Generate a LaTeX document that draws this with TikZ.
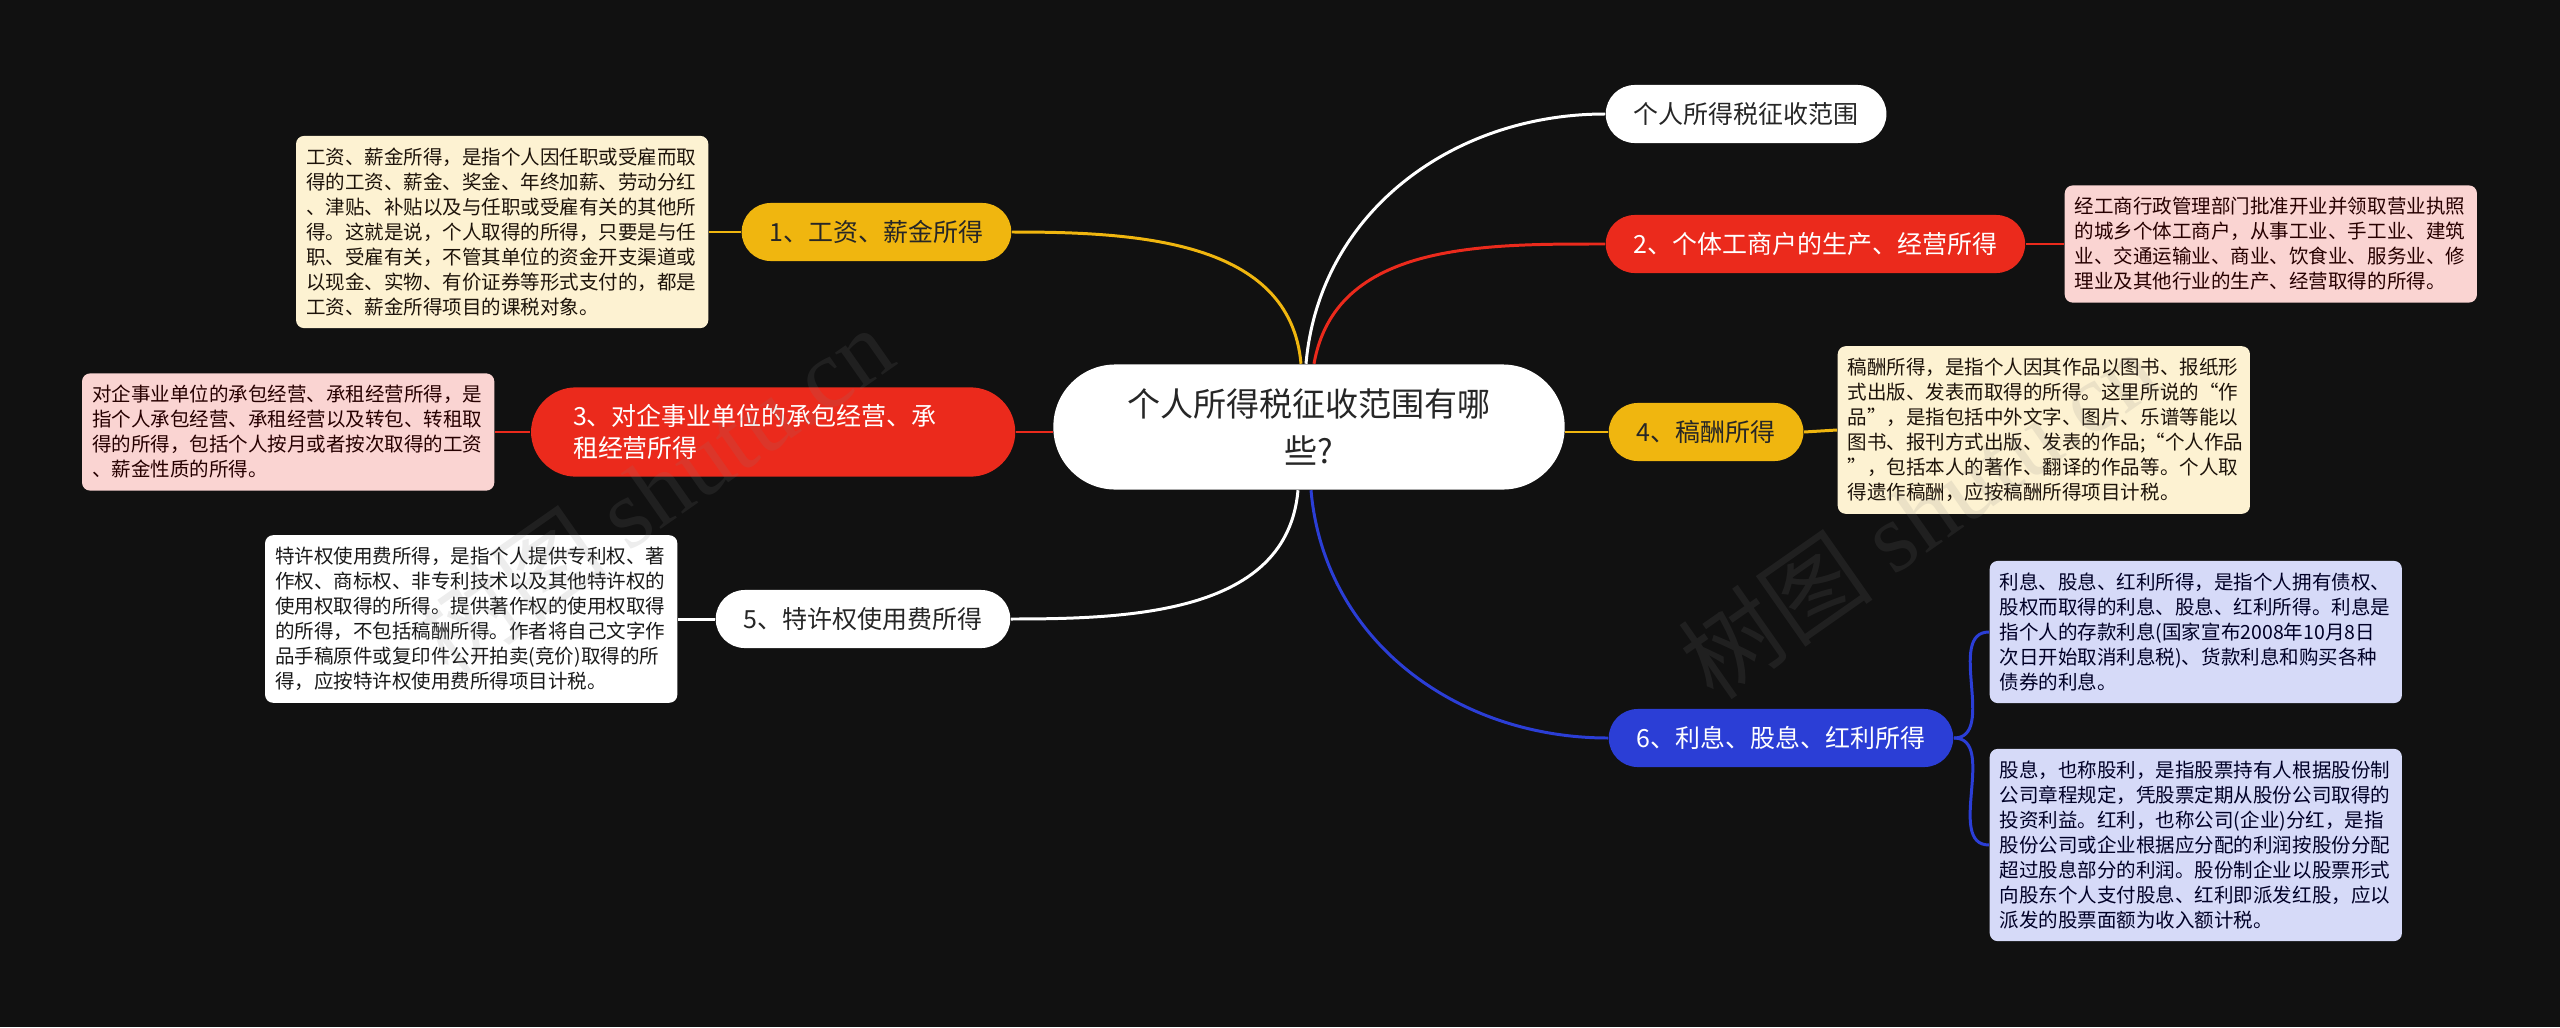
\documentclass[tikz,border=0pt]{standalone}
\usepackage{fontspec}
\setmainfont{Noto Sans CJK SC}
\newfontfamily\wmserif{Liberation Serif}

\definecolor{bgdark}{HTML}{111111}
\definecolor{ylw}{HTML}{F0B60F}
\definecolor{rd}{HTML}{EB2A1C}
\definecolor{blu}{HTML}{2B3ED6}
\definecolor{creamy}{HTML}{FDF2D2}
\definecolor{pinky}{HTML}{FAD4D2}
\definecolor{lav}{HTML}{D6DAF8}

\tikzset{
  rootbox/.style={fill=white, text=black!85, align=center, minimum width=5.11cm,
    minimum height=1.25cm, rounded corners=0.62cm,
    font=\fontsize{9.4pt}{13.6pt}\selectfont},
  branchbox/.style={inner xsep=0.28cm, inner ysep=0pt, minimum height=0.58cm,
    rounded corners=0.29cm, font=\fontsize{7.1pt}{9.1pt}\selectfont},
  leafbox/.style={text width=3.92cm, align=left, inner xsep=0.1cm, inner ysep=0.12cm,
    rounded corners=0.08cm, font=\fontsize{5.55pt}{7.11pt}\selectfont},
  ylwline/.style={draw=ylw, line width=0.85pt},
  rdline/.style={draw=rd, line width=0.85pt},
  whline/.style={draw=white, line width=0.85pt},
  bluline/.style={draw=blu, line width=0.85pt},
  watermark/.style={text=gray, opacity=0.14, rotate=35,
    font=\fontsize{28pt}{28pt}\selectfont}
}

\begin{document}
\begin{tikzpicture}[x=0.01cm, y=-0.01cm]
\fill[bgdark] (0,0) rectangle (2560,1027);

% root
\node[rootbox] (ctr) at (1309,427) {个人所得税征收范围有哪\\些?};

% left branches
\node[branchbox, fill=ylw, text=black!85, anchor=east] (b1) at (1012,232) {1、工资、薪金所得};
\node[branchbox, fill=rd, text=white, anchor=east, text width=4cm, align=left,
  inner xsep=0.42cm, inner ysep=0.17cm, rounded corners=0.45cm] (b3) at (1016,432)
  {3、对企事业单位的承包经营、承\\租经营所得};
\node[branchbox, fill=white, text=black!85, anchor=east] (b5) at (1011,619) {5、特许权使用费所得};

% right branches
\node[branchbox, fill=white, text=black!85, anchor=west] (top) at (1605,114) {个人所得税征收范围};
\node[branchbox, fill=rd, text=white, anchor=west] (b2) at (1605,244) {2、个体工商户的生产、经营所得};
\node[branchbox, fill=ylw, text=black!85, anchor=west, minimum width=1.93cm] (b4) at (1608,432) {4、稿酬所得};
\node[branchbox, fill=blu, text=white, anchor=west] (b6) at (1608,738) {6、利息、股息、红利所得};

% leaves
\node[leafbox, fill=creamy, text=black!85!brown, anchor=east] (l1) at (709,232) {工资、薪金所得，是指个人因任职或受雇而取\\得的工资、薪金、奖金、年终加薪、劳动分红\\、津贴、补贴以及与任职或受雇有关的其他所\\得。这就是说，个人取得的所得，只要是与任\\职、受雇有关，不管其单位的资金开支渠道或\\以现金、实物、有价证券等形式支付的，都是\\工资、薪金所得项目的课税对象。};
\node[leafbox, fill=pinky, text=black!85!red, anchor=east] (l3) at (495,432) {对企事业单位的承包经营、承租经营所得，是\\指个人承包经营、承租经营以及转包、转租取\\得的所得，包括个人按月或者按次取得的工资\\、薪金性质的所得。};
\node[leafbox, fill=white, text=black!90, anchor=east] (l5) at (678,619) {特许权使用费所得，是指个人提供专利权、著\\作权、商标权、非专利技术以及其他特许权的\\使用权取得的所得。提供著作权的使用权取得\\的所得，不包括稿酬所得。作者将自己文字作\\品手稿原件或复印件公开拍卖(竞价)取得的所\\得，应按特许权使用费所得项目计税。};
\node[leafbox, fill=pinky, text=black!85!red, anchor=west] (r2) at (2064,244) {经工商行政管理部门批准开业并领取营业执照\\的城乡个体工商户，从事工业、手工业、建筑\\业、交通运输业、商业、饮食业、服务业、修\\理业及其他行业的生产、经营取得的所得。};
\node[leafbox, fill=creamy, text=black!85!brown, anchor=west] (r4) at (1837,430) {稿酬所得，是指个人因其作品以图书、报纸形\\式出版、发表而取得的所得。这里所说的“作\\品”，是指包括中外文字、图片、乐谱等能以\\图书、报刊方式出版、发表的作品;“个人作品\\”，包括本人的著作、翻译的作品等。个人取\\得遗作稿酬，应按稿酬所得项目计税。};
\node[leafbox, fill=lav, text=black!85!blue, anchor=west] (r6a) at (1989,632) {利息、股息、红利所得，是指个人拥有债权、\\股权而取得的利息、股息、红利所得。利息是\\指个人的存款利息(国家宣布2008年10月8日\\次日开始取消利息税)、货款利息和购买各种\\债券的利息。};
\node[leafbox, fill=lav, text=black!85!blue, anchor=west] (r6b) at (1989,845) {股息，也称股利，是指股票持有人根据股份制\\公司章程规定，凭股票定期从股份公司取得的\\投资利益。红利，也称公司(企业)分红，是指\\股份公司或企业根据应分配的利润按股份分配\\超过股息部分的利润。股份制企业以股票形式\\向股东个人支付股息、红利即派发红股，应以\\派发的股票面额为收入额计税。};

% root to branches
\draw[ylwline] ([xshift=-0.08cm]ctr.north) to[out=95,in=0] (b1.east);
\draw[rdline] (b3.east) -- (b3.east -| ctr.west);
\draw[whline] ([xshift=-0.11cm]ctr.south) to[out=265,in=0] (b5.east);
\draw[whline] ([xshift=-0.03cm]ctr.north) to[out=85,in=180] (top.west);
\draw[rdline] ([xshift=0.05cm]ctr.north) to[out=80,in=180] (b2.west);
\draw[ylwline] (ctr.east |- b4.west) -- (b4.west);
\draw[bluline] ([xshift=0.02cm]ctr.south) to[out=275,in=180] (b6.west);

% branches to leaves
\draw[ylwline] (l1.east) -- (b1.west);
\draw[rdline] (l3.east) -- (l3.east -| b3.west);
\draw[whline] (l5.east) -- (b5.west);
\draw[rdline] (b2.east) -- (r2.west);
\draw[ylwline] (b4.east) -- (r4.west);
\draw[bluline] (b6.east) to[out=0,in=180] (r6a.west);
\draw[bluline] (b6.east) to[out=0,in=180] (r6b.west);

% watermarks
\node[watermark] (wml) at (653,490) {树图 {\wmserif shutu.cn}};
\node[watermark] (wmr) at (1918,514) {树图 {\wmserif shutu.cn}};
\end{tikzpicture}
\end{document}
